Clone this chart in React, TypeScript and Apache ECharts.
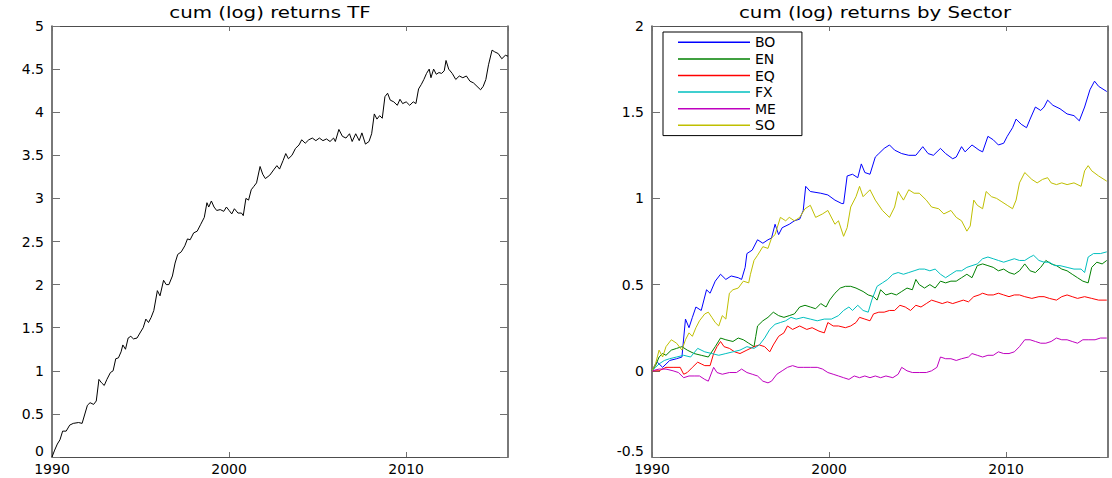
import React, { useEffect, useRef } from "react";
import * as echarts from "echarts";

const X_MIN = 1990;
const X_MAX = 2015.75;
const X_TICKS = [1990, 2000, 2010];

const TF_TITLE = "cum (log) returns TF";
const SECTOR_TITLE = "cum (log) returns by Sector";

const TF: [number, number][] = [
  [1990.0, 0], [1990.15, 0.08], [1990.3, 0.15], [1990.45, 0.2], [1990.6, 0.3], [1990.8, 0.3], [1991.0, 0.37], [1991.2, 0.39],
  [1991.5, 0.4], [1991.7, 0.39], [1992.0, 0.6], [1992.15, 0.63], [1992.35, 0.61], [1992.5, 0.65], [1992.65, 0.9], [1992.8, 0.86],
  [1992.95, 0.83], [1993.1, 0.9], [1993.3, 0.98], [1993.45, 1.0], [1993.6, 1.14], [1993.75, 1.15], [1993.9, 1.22], [1994.0, 1.3],
  [1994.15, 1.25], [1994.3, 1.38], [1994.45, 1.4], [1994.6, 1.37], [1994.8, 1.38], [1995.0, 1.45], [1995.15, 1.5], [1995.3, 1.6],
  [1995.45, 1.56], [1995.6, 1.62], [1995.75, 1.7], [1995.95, 1.93], [1996.1, 1.87], [1996.3, 2.05], [1996.45, 2.0], [1996.6, 2.0],
  [1996.8, 2.1], [1996.95, 2.25], [1997.1, 2.35], [1997.3, 2.38], [1997.5, 2.45], [1997.65, 2.53], [1997.8, 2.52], [1998.0, 2.6],
  [1998.2, 2.62], [1998.4, 2.7], [1998.6, 2.78], [1998.75, 2.95], [1998.85, 2.9], [1999.0, 2.97], [1999.15, 2.9], [1999.3, 2.86],
  [1999.5, 2.87], [1999.7, 2.85], [1999.85, 2.9], [2000.0, 2.86], [2000.15, 2.82], [2000.3, 2.88], [2000.5, 2.83], [2000.7, 2.83],
  [2000.8, 2.8], [2000.95, 3.0], [2001.1, 2.98], [2001.25, 3.1], [2001.4, 3.14], [2001.55, 3.18], [2001.75, 3.37], [2001.9, 3.28],
  [2002.05, 3.23], [2002.3, 3.27], [2002.55, 3.34], [2002.7, 3.38], [2002.85, 3.34], [2003.05, 3.44], [2003.2, 3.52], [2003.35, 3.46],
  [2003.55, 3.5], [2003.75, 3.58], [2003.95, 3.62], [2004.1, 3.68], [2004.3, 3.64], [2004.5, 3.68], [2004.7, 3.7], [2004.9, 3.67],
  [2005.1, 3.7], [2005.3, 3.67], [2005.5, 3.69], [2005.7, 3.66], [2005.9, 3.7], [2006.0, 3.66], [2006.2, 3.8], [2006.4, 3.72],
  [2006.6, 3.7], [2006.8, 3.75], [2006.95, 3.66], [2007.15, 3.75], [2007.35, 3.67], [2007.5, 3.76], [2007.7, 3.63], [2007.9, 3.66],
  [2008.05, 3.75], [2008.2, 3.98], [2008.35, 3.92], [2008.5, 3.96], [2008.65, 3.93], [2008.8, 4.18], [2008.95, 4.22], [2009.1, 4.14],
  [2009.3, 4.12], [2009.5, 4.08], [2009.65, 4.15], [2009.8, 4.1], [2010.0, 4.12], [2010.2, 4.08], [2010.4, 4.12], [2010.55, 4.1],
  [2010.7, 4.27], [2010.85, 4.32], [2011.0, 4.38], [2011.15, 4.45], [2011.3, 4.5], [2011.4, 4.4], [2011.55, 4.5], [2011.7, 4.44],
  [2011.85, 4.46], [2012.0, 4.45], [2012.15, 4.48], [2012.25, 4.6], [2012.4, 4.5], [2012.6, 4.45], [2012.8, 4.38], [2013.0, 4.42],
  [2013.2, 4.4], [2013.4, 4.42], [2013.6, 4.36], [2013.8, 4.34], [2014.0, 4.3], [2014.2, 4.26], [2014.35, 4.3], [2014.5, 4.38],
  [2014.65, 4.55], [2014.85, 4.72], [2015.0, 4.7], [2015.2, 4.68], [2015.4, 4.62], [2015.6, 4.66], [2015.75, 4.65],
];

const BO: [number, number][] = [
  [1990, 0], [1990.2, 0.04], [1990.3, 0.05], [1990.6, 0.02], [1991.0, 0.06], [1991.39, 0.07], [1991.69, 0.08], [1991.89, 0.3],
  [1992.09, 0.25], [1992.28, 0.31], [1992.48, 0.37], [1992.78, 0.35], [1993.08, 0.47], [1993.28, 0.45], [1993.57, 0.52], [1993.87, 0.56],
  [1994.17, 0.53], [1994.47, 0.55], [1994.87, 0.54], [1995.06, 0.53], [1995.26, 0.6], [1995.36, 0.68], [1995.66, 0.7], [1995.96, 0.76],
  [1996.26, 0.74], [1996.55, 0.76], [1996.75, 0.77], [1996.95, 0.85], [1997.15, 0.79], [1997.35, 0.83], [1997.75, 0.85], [1998.04, 0.87],
  [1998.34, 0.88], [1998.54, 0.93], [1998.68, 1.07], [1998.94, 1.04], [1999.53, 1.03], [1999.93, 1.02], [2000.33, 0.99], [2000.72, 0.97],
  [2000.82, 0.97], [2001.02, 1.13], [2001.32, 1.14], [2001.62, 1.12], [2001.82, 1.2], [2002.02, 1.15], [2002.31, 1.14], [2002.61, 1.24],
  [2002.81, 1.26], [2003.11, 1.29], [2003.41, 1.31], [2003.7, 1.28], [2004.1, 1.26], [2004.5, 1.25], [2004.9, 1.25], [2005.29, 1.3],
  [2005.59, 1.26], [2005.89, 1.25], [2006.29, 1.29], [2006.58, 1.26], [2006.98, 1.23], [2007.18, 1.24], [2007.48, 1.3], [2007.68, 1.27],
  [2008.07, 1.31], [2008.47, 1.28], [2008.67, 1.27], [2008.97, 1.36], [2009.27, 1.34], [2009.56, 1.31], [2009.86, 1.32], [2010.06, 1.36],
  [2010.36, 1.41], [2010.56, 1.46], [2010.85, 1.43], [2011.15, 1.41], [2011.35, 1.46], [2011.65, 1.53], [2011.95, 1.51], [2012.14, 1.53],
  [2012.34, 1.57], [2012.64, 1.54], [2013.04, 1.52], [2013.44, 1.49], [2013.83, 1.48], [2014.13, 1.45], [2014.43, 1.53], [2014.73, 1.63],
  [2014.99, 1.68], [2015.22, 1.65], [2015.68, 1.62],
];

const EN: [number, number][] = [
  [1990, 0], [1990.2, 0.03], [1990.4, 0.08], [1990.6, 0.1], [1990.79, 0.09], [1991.09, 0.12], [1991.39, 0.13], [1991.69, 0.14],
  [1991.99, 0.12], [1992.38, 0.1], [1992.78, 0.09], [1993.18, 0.08], [1993.57, 0.14], [1993.87, 0.19], [1994.17, 0.18], [1994.57, 0.17],
  [1994.87, 0.19], [1995.16, 0.18], [1995.46, 0.16], [1995.76, 0.14], [1995.86, 0.2], [1995.96, 0.26], [1996.26, 0.29], [1996.55, 0.31],
  [1996.85, 0.34], [1997.15, 0.32], [1997.45, 0.31], [1997.75, 0.32], [1998.04, 0.33], [1998.34, 0.37], [1998.64, 0.38], [1998.94, 0.37],
  [1999.24, 0.36], [1999.53, 0.39], [1999.83, 0.37], [2000.03, 0.41], [2000.33, 0.45], [2000.63, 0.48], [2000.92, 0.49], [2001.22, 0.49],
  [2001.52, 0.48], [2001.92, 0.46], [2002.21, 0.44], [2002.51, 0.43], [2002.71, 0.41], [2002.91, 0.47], [2003.21, 0.44], [2003.51, 0.45],
  [2003.8, 0.44], [2004.1, 0.46], [2004.4, 0.48], [2004.7, 0.47], [2004.9, 0.53], [2005.09, 0.5], [2005.39, 0.48], [2005.69, 0.5],
  [2005.99, 0.48], [2006.29, 0.52], [2006.58, 0.51], [2006.88, 0.52], [2007.18, 0.52], [2007.48, 0.54], [2007.78, 0.56], [2008.07, 0.54],
  [2008.37, 0.61], [2008.67, 0.62], [2008.97, 0.61], [2009.27, 0.6], [2009.56, 0.58], [2009.86, 0.59], [2010.16, 0.57], [2010.46, 0.56],
  [2010.75, 0.58], [2011.05, 0.62], [2011.35, 0.58], [2011.65, 0.57], [2011.95, 0.6], [2012.24, 0.64], [2012.54, 0.62], [2012.84, 0.61],
  [2013.14, 0.59], [2013.44, 0.58], [2013.73, 0.56], [2014.03, 0.54], [2014.33, 0.52], [2014.63, 0.51], [2014.83, 0.6], [2015.12, 0.63],
  [2015.42, 0.62], [2015.68, 0.64],
];

const EQ: [number, number][] = [
  [1990, 0], [1990.4, 0], [1990.79, 0.02], [1991.19, 0.02], [1991.59, 0.02], [1991.79, -0.02], [1991.99, -0.01], [1992.28, 0.02],
  [1992.58, 0.05], [1992.78, 0.04], [1992.98, 0.03], [1993.28, 0.03], [1993.48, 0.1], [1993.67, 0.14], [1993.87, 0.17], [1994.07, 0.14],
  [1994.37, 0.13], [1994.67, 0.11], [1994.97, 0.1], [1995.36, 0.12], [1995.76, 0.14], [1996.06, 0.15], [1996.36, 0.14], [1996.65, 0.11],
  [1996.85, 0.15], [1997.15, 0.2], [1997.45, 0.22], [1997.65, 0.26], [1997.94, 0.24], [1998.34, 0.26], [1998.74, 0.24], [1999.04, 0.25],
  [1999.43, 0.23], [1999.73, 0.22], [1999.93, 0.28], [2000.23, 0.26], [2000.53, 0.26], [2000.92, 0.25], [2001.22, 0.26], [2001.52, 0.28],
  [2001.72, 0.31], [2002.02, 0.3], [2002.31, 0.29], [2002.51, 0.33], [2002.81, 0.34], [2003.11, 0.34], [2003.41, 0.35], [2003.7, 0.35],
  [2004.0, 0.38], [2004.3, 0.37], [2004.6, 0.35], [2004.9, 0.38], [2005.19, 0.37], [2005.49, 0.39], [2005.79, 0.41], [2006.09, 0.4],
  [2006.39, 0.39], [2006.68, 0.4], [2006.98, 0.39], [2007.28, 0.4], [2007.58, 0.41], [2007.87, 0.4], [2008.17, 0.43], [2008.47, 0.44],
  [2008.67, 0.45], [2008.97, 0.44], [2009.27, 0.44], [2009.56, 0.45], [2009.86, 0.44], [2010.16, 0.43], [2010.46, 0.44], [2010.75, 0.44],
  [2011.05, 0.43], [2011.45, 0.42], [2011.85, 0.43], [2012.14, 0.43], [2012.44, 0.42], [2012.84, 0.41], [2013.14, 0.43], [2013.44, 0.44],
  [2013.73, 0.43], [2014.03, 0.42], [2014.43, 0.43], [2014.83, 0.42], [2015.22, 0.41], [2015.68, 0.41],
];

const FX: [number, number][] = [
  [1990, 0], [1990.2, 0.02], [1990.4, 0.04], [1990.7, 0.06], [1990.99, 0.07], [1991.39, 0.08], [1991.79, 0.09], [1992.18, 0.08],
  [1992.58, 0.13], [1992.98, 0.11], [1993.38, 0.1], [1993.77, 0.09], [1994.17, 0.1], [1994.57, 0.11], [1994.97, 0.12], [1995.36, 0.14],
  [1995.76, 0.13], [1996.06, 0.15], [1996.36, 0.19], [1996.65, 0.24], [1996.95, 0.27], [1997.25, 0.28], [1997.55, 0.29], [1997.85, 0.31],
  [1998.14, 0.3], [1998.54, 0.31], [1998.94, 0.3], [1999.33, 0.29], [1999.73, 0.3], [2000.13, 0.3], [2000.53, 0.32], [2000.82, 0.35],
  [2001.12, 0.37], [2001.32, 0.35], [2001.62, 0.38], [2001.92, 0.35], [2002.21, 0.34], [2002.41, 0.41], [2002.71, 0.49], [2003.01, 0.51],
  [2003.31, 0.53], [2003.6, 0.56], [2003.9, 0.57], [2004.2, 0.56], [2004.5, 0.57], [2004.8, 0.58], [2005.09, 0.59], [2005.39, 0.59],
  [2005.69, 0.58], [2005.99, 0.59], [2006.29, 0.56], [2006.58, 0.54], [2006.88, 0.56], [2007.18, 0.58], [2007.48, 0.58], [2007.78, 0.6],
  [2008.07, 0.61], [2008.37, 0.62], [2008.67, 0.65], [2008.97, 0.66], [2009.27, 0.65], [2009.56, 0.64], [2009.86, 0.63], [2010.16, 0.64],
  [2010.46, 0.65], [2010.75, 0.64], [2011.05, 0.64], [2011.35, 0.66], [2011.55, 0.67], [2011.85, 0.64], [2012.14, 0.63], [2012.44, 0.63],
  [2012.74, 0.61], [2013.04, 0.61], [2013.44, 0.6], [2013.83, 0.59], [2014.23, 0.59], [2014.43, 0.57], [2014.63, 0.66], [2014.93, 0.68],
  [2015.32, 0.68], [2015.68, 0.69],
];

const ME: [number, number][] = [
  [1990, 0], [1990.4, 0.01], [1990.79, 0.01], [1991.19, 0], [1991.49, -0.01], [1991.79, -0.04], [1992.09, -0.03], [1992.38, -0.03],
  [1992.68, -0.03], [1992.98, -0.05], [1993.18, -0.06], [1993.48, 0.02], [1993.67, -0.01], [1993.97, -0.02], [1994.37, -0.01], [1994.77, -0.01],
  [1995.06, 0.01], [1995.36, -0.01], [1995.66, -0.02], [1995.96, -0.03], [1996.26, -0.06], [1996.55, -0.07], [1996.75, -0.06], [1997.05, -0.02],
  [1997.35, 0], [1997.65, 0.02], [1997.94, 0.03], [1998.24, 0.02], [1998.54, 0.02], [1998.94, 0.02], [1999.33, 0.02], [1999.63, 0.01],
  [1999.93, -0.01], [2000.23, -0.02], [2000.53, -0.03], [2000.82, -0.04], [2001.12, -0.05], [2001.42, -0.03], [2001.72, -0.04], [2002.02, -0.03],
  [2002.31, -0.04], [2002.61, -0.03], [2002.91, -0.04], [2003.21, -0.03], [2003.6, -0.04], [2003.9, -0.02], [2004.1, 0.02], [2004.4, 0],
  [2004.7, -0.01], [2005.09, -0.01], [2005.49, -0.01], [2005.79, 0], [2006.09, 0.02], [2006.29, 0.08], [2006.58, 0.07], [2006.88, 0.07],
  [2007.18, 0.06], [2007.48, 0.07], [2007.87, 0.08], [2008.07, 0.1], [2008.37, 0.09], [2008.67, 0.08], [2008.97, 0.09], [2009.27, 0.09],
  [2009.56, 0.11], [2009.86, 0.1], [2010.16, 0.1], [2010.46, 0.11], [2010.75, 0.14], [2011.05, 0.18], [2011.35, 0.18], [2011.65, 0.17],
  [2011.95, 0.16], [2012.24, 0.16], [2012.54, 0.17], [2012.84, 0.19], [2013.14, 0.18], [2013.44, 0.18], [2013.73, 0.17], [2014.03, 0.16],
  [2014.33, 0.18], [2014.63, 0.18], [2015.02, 0.18], [2015.32, 0.19], [2015.68, 0.19],
];

const SO: [number, number][] = [
  [1990, 0], [1990.2, 0.04], [1990.4, 0.12], [1990.6, 0.08], [1990.79, 0.14], [1991.09, 0.18], [1991.39, 0.16], [1991.69, 0.12],
  [1991.89, 0.18], [1992.09, 0.22], [1992.28, 0.2], [1992.48, 0.25], [1992.68, 0.29], [1992.98, 0.33], [1993.18, 0.34], [1993.38, 0.31],
  [1993.57, 0.28], [1993.77, 0.26], [1993.97, 0.32], [1994.17, 0.3], [1994.37, 0.45], [1994.57, 0.47], [1994.87, 0.48], [1995.16, 0.52],
  [1995.46, 0.51], [1995.56, 0.56], [1995.76, 0.64], [1995.96, 0.67], [1996.26, 0.72], [1996.55, 0.71], [1996.75, 0.77], [1996.95, 0.79],
  [1997.25, 0.89], [1997.55, 0.87], [1997.75, 0.89], [1998.04, 0.87], [1998.34, 0.89], [1998.64, 0.94], [1998.94, 0.96], [1999.24, 0.89],
  [1999.63, 0.91], [1999.93, 0.93], [2000.33, 0.85], [2000.53, 0.87], [2000.82, 0.78], [2001.02, 0.83], [2001.22, 0.95], [2001.52, 1.01],
  [2001.72, 1.07], [2001.92, 1.01], [2002.31, 1.05], [2002.61, 0.99], [2003.01, 0.93], [2003.41, 0.89], [2003.7, 0.95], [2003.9, 1.04],
  [2004.2, 0.99], [2004.5, 1.05], [2004.8, 1.03], [2005.09, 1.03], [2005.49, 0.99], [2005.79, 0.95], [2006.19, 0.94], [2006.48, 0.91],
  [2006.88, 0.93], [2007.18, 0.89], [2007.48, 0.87], [2007.78, 0.81], [2007.97, 0.84], [2008.17, 0.99], [2008.37, 0.96], [2008.67, 0.94],
  [2008.87, 1.04], [2009.17, 1.01], [2009.46, 1.0], [2009.76, 0.98], [2010.06, 0.96], [2010.36, 0.94], [2010.56, 0.99], [2010.75, 1.09],
  [2011.05, 1.15], [2011.45, 1.11], [2011.75, 1.09], [2012.05, 1.11], [2012.34, 1.12], [2012.54, 1.09], [2012.84, 1.08], [2013.14, 1.09],
  [2013.44, 1.08], [2013.83, 1.09], [2014.23, 1.07], [2014.43, 1.16], [2014.63, 1.19], [2014.83, 1.16], [2015.22, 1.13], [2015.68, 1.1],
];

const SECTOR_NAMES = ["BO", "EN", "EQ", "FX", "ME", "SO"];
const SECTOR_DATA = [BO, EN, EQ, FX, ME, SO];
const SECTOR_COLORS = ["#0000ff", "#008000", "#ff0000", "#00bfbf", "#bf00bf", "#bfbf00"];

const FONT = "DejaVu Sans";
const AXIS_COLOR = "#4d4d4d";
const TICK_COLOR = "#707070";

function xAxes(gridIndex: number) {
  const base = {
    type: "value" as const,
    gridIndex,
    min: X_MIN,
    max: X_MAX,
    interval: 10,
    splitLine: { show: false },
    axisLine: { show: true, onZero: false, lineStyle: { color: AXIS_COLOR, width: 1 } },
    axisTick: { show: true, inside: true, length: 5, lineStyle: { color: TICK_COLOR } },
  };
  return [
    {
      ...base,
      position: "bottom",
      axisLabel: {
        show: true,
        margin: 5,
        color: "#000",
        fontFamily: FONT,
        fontSize: 14,
        showMaxLabel: false,
        formatter: (v: number) => (X_TICKS.includes(Math.round(v)) ? String(Math.round(v)) : ""),
      },
    },
    { ...base, position: "top", axisLabel: { show: false } },
  ];
}

function yAxes(gridIndex: number, min: number, max: number) {
  const base = {
    type: "value" as const,
    gridIndex,
    min,
    max,
    interval: 0.5,
    splitLine: { show: false },
    axisLine: { show: true, onZero: false, lineStyle: { color: AXIS_COLOR, width: 1.5 } },
    axisTick: { show: true, inside: true, length: 8, lineStyle: { color: TICK_COLOR } },
  };
  return [
    {
      ...base,
      position: "left",
      axisLabel: {
        show: true,
        margin: 8,
        color: "#000",
        fontFamily: FONT,
        fontSize: 14,
        formatter: (v: number) => (Math.abs(v - min) < 1e-9 ? `{lo|${v}}` : String(v)),
        rich: {
          lo: { color: "#000", fontFamily: FONT, fontSize: 14, padding: [0, 0, 12, 0] },
        },
      },
    },
    { ...base, position: "right", axisLabel: { show: false } },
  ];
}

export default function App() {
  const ref = useRef<HTMLDivElement>(null);
  useEffect(() => {
    if (!ref.current) return;
    const chart = echarts.init(ref.current, null, { renderer: "svg" });
    const option: any = {
      animation: false,
      backgroundColor: "#ffffff",
      grid: [
        { left: 52, right: 604, top: 26, bottom: 21 },
        { left: 652, right: 4, top: 26, bottom: 21 },
      ],
      xAxis: [...xAxes(0), ...xAxes(1)],
      yAxis: [...yAxes(0, 0, 5), ...yAxes(1, -0.5, 2)],
      graphic: [
        {
          type: "text",
          x: 270,
          y: 13,
          scaleX: 1.32,
          style: { text: TF_TITLE, fill: "#000", font: `15px "${FONT}"`, textAlign: "center", textVerticalAlign: "middle" },
        },
        {
          type: "text",
          x: 875,
          y: 13,
          scaleX: 1.32,
          style: { text: SECTOR_TITLE, fill: "#000", font: `15px "${FONT}"`, textAlign: "center", textVerticalAlign: "middle" },
        },
      ],
      legend: {
        orient: "vertical",
        left: 663,
        top: 32,
        data: SECTOR_NAMES.map((name, i) => ({
          name,
          icon: "rect",
          itemStyle: { color: SECTOR_COLORS[i], borderWidth: 0 },
        })),
        itemWidth: 72,
        itemHeight: 1.5,
        itemGap: 0,
        padding: [2, 26, 2, 15],
        backgroundColor: "#ffffff",
        borderColor: "#000",
        borderWidth: 1,
        borderRadius: 0,
        textStyle: { color: "#000", fontFamily: FONT, fontSize: 14, lineHeight: 16.6 },
        selectedMode: false,
      },
      series: [
        {
          name: "TF",
          type: "line",
          xAxisIndex: 0,
          yAxisIndex: 0,
          data: TF,
          symbol: "none",
          lineStyle: { color: "#000", width: 1 },
          itemStyle: { color: "#000" },
          silent: true,
        },
        ...SECTOR_NAMES.map((name, i) => ({
          name,
          type: "line",
          xAxisIndex: 2,
          yAxisIndex: 2,
          data: SECTOR_DATA[i],
          symbol: "none",
          color: SECTOR_COLORS[i],
          lineStyle: { color: SECTOR_COLORS[i], width: 1 },
          itemStyle: { color: SECTOR_COLORS[i] },
          silent: true,
        })),
      ],
    };
    chart.setOption(option);
    return () => chart.dispose();
  }, []);
  return <div ref={ref} style={{ position: "absolute", left: 0, top: 0, width: 1112, height: 478 }} />;
}
